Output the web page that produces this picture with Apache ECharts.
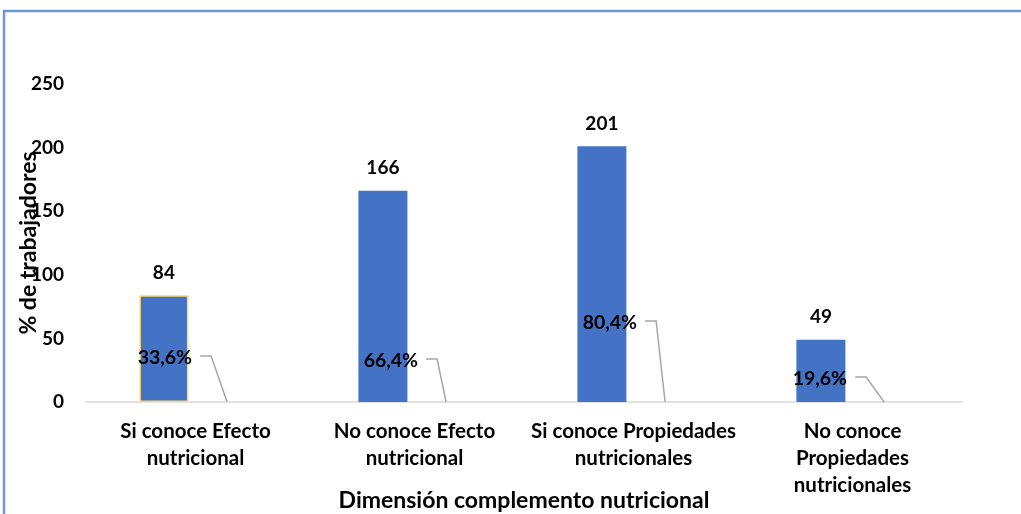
<!DOCTYPE html>
<html>
<head>
<meta charset="utf-8">
<script src="https://cdn.jsdelivr.net/npm/echarts@6/dist/echarts.min.js"></script>
<style>
  html, body { margin: 0; padding: 0; background: #fff; }
  #chart { width: 1021px; height: 514px; }
</style>
</head>
<body>
<div id="chart"></div>
<script>
const categories = [
  'Si conoce Efecto\nnutricional',
  'No conoce Efecto\nnutricional',
  'Si conoce Propiedades\nnutricionales',
  'No conoce\nPropiedades\nnutricionales',
];
const counts = [84, 166, 201, 49];
const percents = [33.6, 66.4, 80.4, 19.6];
const yTicks = [0, 50, 100, 150, 200, 250];

// where each percent label sits (turn point of the leader line, px from its anchor)
const pctTurn = [[-16, -46], [-9, -43], [-9, -81], [-18, -25]];

const FONT = 'Lato';
const BAR_W = 49;
const BAR_GAP = 0.29;
const slotOffset = (BAR_W * (1 + BAR_GAP)) / 2;

const chart = echarts.init(document.getElementById('chart'));

const option = {
  animation: false,
  textStyle: { fontFamily: FONT },
  graphic: [
    {
      type: 'rect',
      shape: { x: 4, y: 11, width: 1100, height: 600 },
      style: { fill: 'none', stroke: '#7097d2', lineWidth: 2.5 },
      silent: true,
    },
  ],
  grid: { left: 86, right: 59, top: 84, bottom: 112, outerBoundsMode: 'none', containLabel: false },
  xAxis: {
    type: 'category',
    data: categories,
    name: 'Dimensión complemento nutricional',
    nameLocation: 'middle',
    nameGap: 87,
    nameMoveOverlap: false,
    nameTextStyle: { fontFamily: FONT, fontWeight: 'bold', fontSize: 23, color: '#000' },
    axisLine: { lineStyle: { color: '#d9d9d9', width: 1.5 } },
    axisTick: { show: false },
    axisLabel: {
      interval: 0,
      margin: 16,
      fontFamily: FONT,
      fontWeight: 'bold',
      fontSize: 20.5,
      lineHeight: 27,
      color: '#000',
    },
  },
  yAxis: {
    type: 'value',
    min: yTicks[0],
    max: yTicks[yTicks.length - 1],
    interval: yTicks[1] - yTicks[0],
    name: '% de trabajadores',
    nameLocation: 'middle',
    nameGap: 46,
    nameMoveOverlap: false,
    nameTextStyle: { fontFamily: FONT, fontWeight: 'bold', fontSize: 23, color: '#000' },
    axisLine: { show: false },
    axisTick: { show: false },
    splitLine: { show: false },
    axisLabel: { margin: 22, fontFamily: FONT, fontWeight: 'bold', fontSize: 19, color: '#000' },
  },
  series: [
    {
      name: 'Trabajadores',
      type: 'bar',
      barWidth: BAR_W,
      barGap: BAR_GAP * 100 + '%',
      data: counts.map((v, i) =>
        i === 0
          ? { value: v, itemStyle: { borderColor: '#ffd966', borderWidth: 1.5 } }
          : v
      ),
      itemStyle: { color: '#4472c4' },
      label: {
        show: true,
        position: 'top',
        distance: 13,
        fontFamily: FONT,
        fontWeight: 'bold',
        fontSize: 19,
        color: '#000',
      },
    },
    {
      // empty slot so the blue bars sit left of centre like the original
      name: 'slot',
      type: 'bar',
      barWidth: BAR_W,
      data: counts.map(() => 0),
      itemStyle: { color: 'rgba(0,0,0,0)' },
      silent: true,
    },
    {
      name: 'Porcentaje',
      type: 'custom',
      z: 10,
      data: percents.map((p, i) => [i, p]),
      renderItem: function (params, api) {
        const i = api.value(0);
        const base = api.coord([i, 0]);
        const ax = base[0] + slotOffset;
        const ay = base[1];
        const tx = ax + pctTurn[i][0];
        const ty = ay + pctTurn[i][1];
        const sx = tx - 11;
        const txt = api.value(1).toFixed(1).replace('.', ',') + '%';
        return {
          type: 'group',
          children: [
            {
              type: 'polyline',
              shape: { points: [[sx, ty], [tx, ty], [ax, ay]] },
              style: { stroke: '#a6a6a6', lineWidth: 1.5, fill: 'none' },
            },
            {
              type: 'text',
              style: {
                x: sx - 8,
                y: ty + 1.5,
                text: txt,
                align: 'right',
                verticalAlign: 'middle',
                fontFamily: FONT,
                fontWeight: 'bold',
                fontSize: 19.5,
                fill: '#000',
              },
            },
          ],
        };
      },
    },
  ],
};

chart.setOption(option);
</script>
</body>
</html>
